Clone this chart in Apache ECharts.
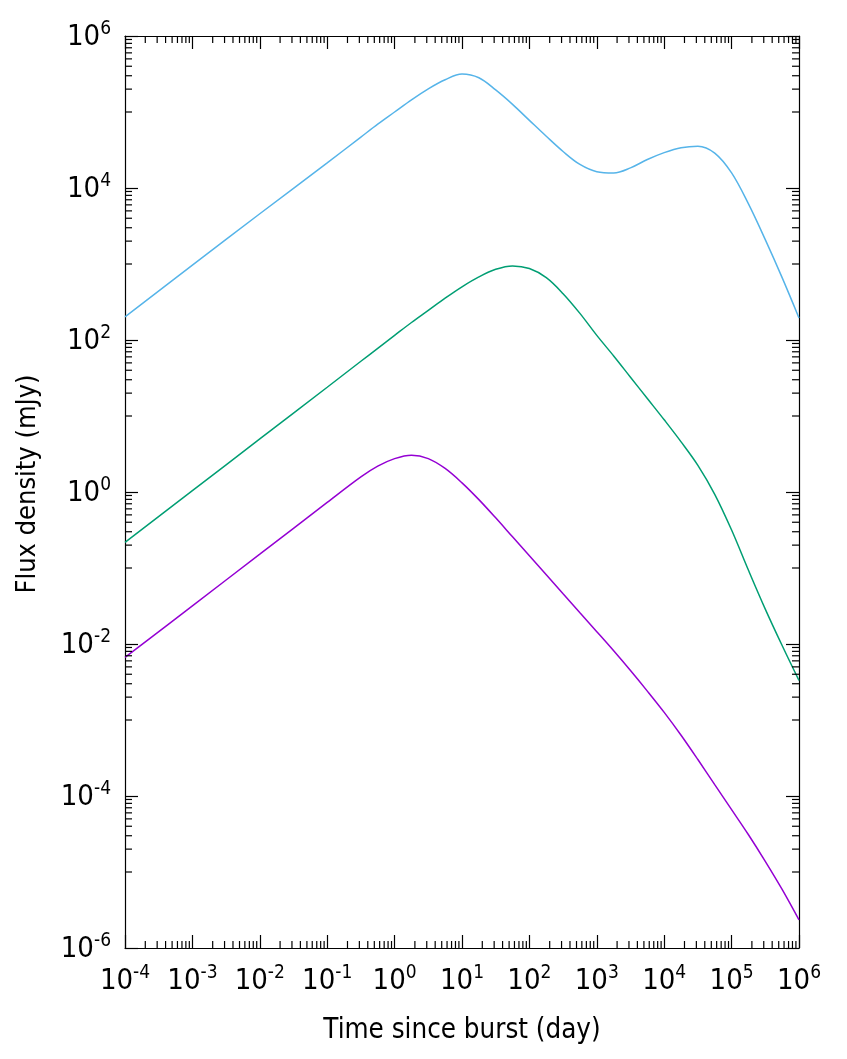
<!DOCTYPE html>
<html>
<head>
<meta charset="utf-8">
<script src="https://cdn.jsdelivr.net/npm/echarts@6/dist/echarts.min.js"></script>
<style>
html,body{margin:0;padding:0;background:#fff;}
#chart{width:847px;height:1059px;}
</style>
</head>
<body>
<div id="chart"></div>
<script>
// ---- data ----
const timeDays = [1e-4, 1e-3, 1e-2, 1e-1, 0.316, 0.562, 1, 1.78, 3.16, 5.62, 10, 17.8, 31.6, 56.2, 100, 178, 316, 562, 1e3, 1780, 3160, 5620, 1e4, 17800, 31600, 56200, 1e5, 178000, 316000, 562000, 1e6];
const blueFlux = [202, 968, 4580, 21400, 46800, 69200, 100000, 144500, 202000, 266000, 316000, 282000, 195000, 126000, 77600, 47900, 30200, 20400, 16400, 15800, 18400, 23700, 29200, 33900, 35500, 28800, 15800, 6170, 2090, 661, 195];
const greenFlux = [0.217, 1.04, 4.99, 23.9, 52.5, 77.6, 115, 170, 245, 355, 501, 676, 851, 944, 871, 661, 407, 224, 115, 61.7, 32.4, 17.0, 8.91, 4.57, 2.24, 0.933, 0.316, 0.0933, 0.0288, 0.00955, 0.00331];
const purpleFlux = [0.00665, 0.0318, 0.152, 0.729, 1.58, 2.19, 2.75, 3.05, 2.75, 2.04, 1.32, 0.794, 0.457, 0.257, 0.145, 0.0813, 0.0457, 0.0257, 0.0145, 0.00813, 0.00447, 0.00240, 0.00126, 0.000631, 0.000302, 0.000141, 6.61e-5, 3.09e-5, 1.38e-5, 5.89e-6, 2.34e-6];
const xTickExponents = [-4, -3, -2, -1, 0, 1, 2, 3, 4, 5, 6];
const yTickExponents = [-6, -4, -2, 0, 2, 4, 6];
const xTitle = 'Time since burst (day)';
const yTitle = 'Flux density (mJy)';

// ---- build ----
const X_MIN = Math.pow(10, xTickExponents[0]);
const X_MAX = Math.pow(10, xTickExponents[xTickExponents.length - 1]);
const Y_MIN = Math.pow(10, yTickExponents[0]);
const Y_MAX = Math.pow(10, yTickExponents[yTickExponents.length - 1]);

// minor ticks: x -> 2..9 x 10^k ; y -> 1..9 x 10^(odd)
const xMinor = [];
for (let i = 0; i < xTickExponents.length - 1; i++) {
  for (let m = 2; m <= 9; m++) xMinor.push([m * Math.pow(10, xTickExponents[i]), Y_MIN]);
}
const yMinor = [];
for (let i = 0; i < yTickExponents.length - 1; i++) {
  for (let m = 1; m <= 9; m++) yMinor.push([X_MIN, m * Math.pow(10, yTickExponents[i] + 1)]);
}

const FONT = '"DejaVu Sans Condensed", "DejaVu Sans", sans-serif';
const richLabel = {
  b: { fontSize: 29, lineHeight: 32, fontFamily: FONT, color: '#000', verticalAlign: 'bottom' },
  s: { fontSize: 19, lineHeight: 19, fontFamily: FONT, color: '#000', verticalAlign: 'top' }
};
function powFmt(v) {
  const e = Math.round(Math.log10(v));
  return '{b|10}{s|' + e + '}';
}
const axisLineStyle = { show: true, lineStyle: { color: '#000', width: 1.2 } };
const majorTick = { show: true, inside: true, length: 13, lineStyle: { color: '#000', width: 1.2 } };

function pairs(t, f) { return t.map((x, i) => [x, f[i]]); }

const TICK_MINOR = 7;
const chart = echarts.init(document.getElementById('chart'), null, { renderer: 'canvas' });
chart.setOption({
  animation: false,
  backgroundColor: '#fff',
  grid: { left: 125, right: 48, top: 36, bottom: 111, containLabel: false },
  xAxis: [
    {
      type: 'log', logBase: 10, min: X_MIN, max: X_MAX, interval: 1, position: 'bottom',
      axisLine: axisLineStyle, axisTick: majorTick, splitLine: { show: false }, minorTick: { show: false },
      axisLabel: { show: true, margin: 16, formatter: powFmt, rich: richLabel, showMinLabel: true, showMaxLabel: true },
      name: xTitle, nameLocation: 'middle', nameGap: 69,
      nameTextStyle: { fontSize: 27.5, fontFamily: FONT, color: '#000' }
    },
    {
      type: 'log', logBase: 10, min: X_MIN, max: X_MAX, interval: 1, position: 'top',
      axisLine: axisLineStyle, axisTick: majorTick, splitLine: { show: false },
      axisLabel: { show: false }
    }
  ],
  yAxis: [
    {
      type: 'log', logBase: 10, min: Y_MIN, max: Y_MAX, interval: 2, position: 'left',
      axisLine: axisLineStyle, axisTick: majorTick, splitLine: { show: false },
      axisLabel: { show: true, margin: 14, formatter: powFmt, rich: richLabel, align: 'right', showMinLabel: true, showMaxLabel: true },
      name: yTitle, nameLocation: 'middle', nameGap: 84, nameRotate: 90,
      nameTextStyle: { fontSize: 27, fontFamily: FONT, color: '#000', padding: [0, 0, 0, 16] }
    },
    {
      type: 'log', logBase: 10, min: Y_MIN, max: Y_MAX, interval: 2, position: 'right',
      axisLine: axisLineStyle, axisTick: majorTick, splitLine: { show: false },
      axisLabel: { show: false }
    }
  ],
  series: [
    {
      type: 'line', name: 'blue', data: pairs(timeDays, blueFlux), showSymbol: false, smooth: 0.35,
      lineStyle: { color: '#56b4e9', width: 1.5 }, itemStyle: { color: '#56b4e9' }, z: 3
    },
    {
      type: 'line', name: 'green', data: pairs(timeDays, greenFlux), showSymbol: false, smooth: 0.35,
      lineStyle: { color: '#009e73', width: 1.5 }, itemStyle: { color: '#009e73' }, z: 3
    },
    {
      type: 'line', name: 'purple', data: pairs(timeDays, purpleFlux), showSymbol: false, smooth: 0.35,
      lineStyle: { color: '#9400d3', width: 1.5 }, itemStyle: { color: '#9400d3' }, z: 3
    },
    {
      type: 'custom', name: 'xminor', data: xMinor, clip: false, silent: true, z: 4,
      renderItem: function (params, api) {
        const v = api.value(0);
        const b = api.coord([v, Y_MIN]);
        const t = api.coord([v, Y_MAX]);
        const st = { stroke: '#000', lineWidth: 1.2 };
        return { type: 'group', children: [
          { type: 'line', shape: { x1: b[0], y1: b[1], x2: b[0], y2: b[1] - TICK_MINOR }, style: st },
          { type: 'line', shape: { x1: t[0], y1: t[1], x2: t[0], y2: t[1] + TICK_MINOR }, style: st }
        ] };
      }
    },
    {
      type: 'custom', name: 'yminor', data: yMinor, clip: false, silent: true, z: 4,
      renderItem: function (params, api) {
        const v = api.value(1);
        const l = api.coord([X_MIN, v]);
        const r = api.coord([X_MAX, v]);
        const st = { stroke: '#000', lineWidth: 1.2 };
        return { type: 'group', children: [
          { type: 'line', shape: { x1: l[0], y1: l[1], x2: l[0] + TICK_MINOR, y2: l[1] }, style: st },
          { type: 'line', shape: { x1: r[0], y1: r[1], x2: r[0] - TICK_MINOR, y2: r[1] }, style: st }
        ] };
      }
    }
  ]
});
</script>
</body>
</html>
